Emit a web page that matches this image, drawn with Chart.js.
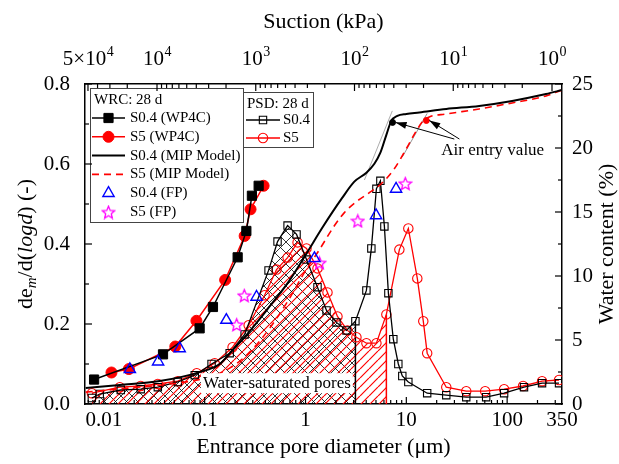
<!DOCTYPE html>
<html><head><meta charset="utf-8">
<script src="https://cdn.jsdelivr.net/npm/chart.js@4.4.1/dist/chart.umd.min.js"></script>
<style>html,body{margin:0;padding:0;background:#fff;} canvas{display:block;}</style>
</head><body>
<canvas id="c" width="619" height="464"></canvas>
<script>
const FONT = '"Liberation Serif", "Times New Roman", serif';

// ---------------- DATA ----------------
// Axis ticks
const xTickValues = [0.01, 0.1, 1, 10, 100, 350];
const xTickLabels = ['0.01', '0.1', '1', '10', '100', '350'];
const suctionTickValues = [5e4, 1e4, 1e3, 1e2, 1e1, 1e0];
const suctionTickBase = ['5×10', '10', '10', '10', '10', '10'];
const suctionTickExp  = ['4', '4', '3', '2', '1', '0'];

// WRC: WP4C measurements (diameter um, water content %)
const wp4cDiam_S04 = [0.0080, 0.0386, 0.0891, 0.1208, 0.2123, 0.259, 0.294, 0.343];
const wp4cWC_S04   = [1.91, 3.88, 5.91, 7.58, 11.46, 13.52, 16.27, 17.05];
const wp4cDiam_S5  = [0.0119, 0.0177, 0.0511, 0.0828, 0.1596, 0.249, 0.285, 0.384];
const wp4cWC_S5    = [2.46, 2.73, 4.49, 6.50, 9.69, 13.13, 15.21, 17.05];

// WRC: MIP model curves
const mipDiam_S04 = [0.0066,0.0144,0.0358,0.0891,0.141,0.189,0.249,0.411,0.695,1.023,1.472,2.32,3.05,4.02,4.82,5.53,6.34,7.10,8.15,10.0,13.45,24.9,52.8,112,243,350];
const mipWC_S04   = [1.25,1.48,1.79,2.49,3.12,4.21,5.22,7.32,9.66,11.76,13.79,16.12,17.37,18.07,18.77,19.63,21.03,22.12,22.51,22.66,22.78,23.05,23.29,23.68,24.22,24.53];
const mipDiam_S5  = [0.0066,0.0181,0.045,0.1,0.177,0.279,0.441,0.695,0.977,1.377,1.94,2.43,3.20,4.30,5.65,7.60,10.0,12.56,14.7,16.9,24.9,52.8,112,243,350];
const mipWC_S5    = [0.93,1.25,1.56,2.02,2.80,4.05,5.92,8.26,10.28,12.07,13.94,14.95,15.81,16.51,17.21,18.38,19.94,21.34,22.12,22.43,22.66,23.05,23.52,24.07,24.53];

// WRC: filter paper
const fpDiam_S04 = [0.0181, 0.0345, 0.0565, 0.164, 0.327, 1.227, 5.01, 7.91];
const fpWC_S04   = [2.71, 3.30, 4.34, 6.56, 8.36, 11.38, 14.73, 16.80];
const fpDiam_S5  = [0.2075, 0.247, 1.377, 3.30, 9.77];
const fpWC_S5    = [6.21, 8.49, 11.04, 14.32, 17.24];

// PSD (diameter um, dem/dlogd)
const psdDiam_S04 = [0.0076,0.0091,0.0147,0.0232,0.0343,0.0541,0.0797,0.117,0.177,0.249,0.430,0.528,0.664,0.815,1.023,1.315,1.615,2.028,2.549,3.126,4.018,4.50,5.05,5.53,6.06,6.64,7.43,8.33,9.12,10.47,16.1,24.9,39.3,61.9,93.3,147,222,327];
const psdVal_S04  = [0.015,0.025,0.035,0.037,0.042,0.055,0.072,0.100,0.127,0.174,0.334,0.406,0.446,0.424,0.361,0.292,0.234,0.204,0.184,0.207,0.284,0.389,0.538,0.558,0.444,0.277,0.162,0.100,0.070,0.055,0.027,0.022,0.017,0.017,0.027,0.042,0.052,0.052];
const psdDiam_S5  = [0.0076,0.0144,0.0232,0.0343,0.0541,0.0834,0.1256,0.189,0.273,0.393,0.516,0.664,0.834,1.023,1.315,1.652,2.075,2.606,3.20,4.02,5.05,6.34,8.53,10.47,12.85,14.73,16.1,24.9,39.3,60.5,93.3,143.9,222,327];
const psdVal_S5   = [0.027,0.042,0.045,0.050,0.057,0.077,0.102,0.142,0.197,0.272,0.336,0.366,0.404,0.389,0.339,0.279,0.219,0.184,0.167,0.152,0.152,0.224,0.386,0.439,0.314,0.207,0.127,0.042,0.032,0.032,0.037,0.045,0.057,0.060];
// Index of the last water-saturated pore class (hatched area limit)
const satIndex_S04 = 19;
const satIndex_S5 = 21;

// Air entry values (diameter um, water content %)
const airEntryDiam = [7.3, 15.8];
const airEntryWC   = [22.0, 22.15];
// Tangent construction lines [d1, w1, d2, w2]
const tangentS04 = [3.84, 17.5, 7.26, 22.9];
const tangentS5  = [9.12, 19.3, 16.1, 22.7];

// Annotations
const satLabelText = 'Water-saturated pores';
const satLabelPos = [0.096, 0.052];
const airLabelText = 'Air entry value';
const airLabelPos = [22.2, 19.77];
const airArrowTails = [[29.9, 20.7], [33.6, 20.7]];

// ---------------- helpers ----------------
const canvas = document.getElementById('c');
const mainCtx = canvas.getContext('2d');
function pts(xs, ys){ return xs.map((x,i)=>({x:x, y:ys[i]})); }

function hatch(color, dirs, step, lw){
  const c = document.createElement('canvas'); c.width = step; c.height = step;
  const g = c.getContext('2d'); g.strokeStyle = color; g.lineWidth = lw;
  dirs.forEach(d=>{
    g.beginPath();
    for (let k=-1;k<=1;k++){
      if (d === '/'){ g.moveTo(k*step, step); g.lineTo(k*step+step, 0); }
      else { g.moveTo(k*step, 0); g.lineTo(k*step+step, step); }
    }
    g.stroke();
  });
  return mainCtx.createPattern(c, 'repeat');
}
function starImg(color, size){
  const c = document.createElement('canvas'); c.width = size; c.height = size;
  const g = c.getContext('2d'); g.strokeStyle = color; g.lineWidth = 1.3;
  const cx = size/2, cy = size/2 + 0.8, R = size/2 - 1, r = R*0.45;
  g.beginPath();
  for (let i=0;i<10;i++){ const a = -Math.PI/2 + i*Math.PI/5; const rad = i%2 ? r : R; g.lineTo(cx+rad*Math.cos(a), cy+rad*Math.sin(a)); }
  g.closePath(); g.stroke();
  return c;
}
const starMarker = starImg('#ff00ff', 15);
const hatchBlack = hatch('#000', ['\\','/'], 11, 0.8);
const hatchRed = hatch('#ff0000', ['/'], 9, 1.2);

// ---------------- datasets ----------------
const datasets = [
  { label:'S0.4 (WP4C)', data: pts(wp4cDiam_S04, wp4cWC_S04), yAxisID:'y2', borderColor:'#000', borderWidth:1.5,
    pointStyle:'rect', pointRadius:6.5, pointBackgroundColor:'#000', pointBorderColor:'#000', pointBorderWidth:1, order:1 },
  { label:'S5 (WP4C)', data: pts(wp4cDiam_S5, wp4cWC_S5), yAxisID:'y2', borderColor:'#ff0000', borderWidth:1.5,
    pointStyle:'circle', pointRadius:5.5, pointBackgroundColor:'#ff0000', pointBorderColor:'#ff0000', pointBorderWidth:1, order:1 },
  { label:'S0.4 (MIP Model)', data: pts(mipDiam_S04, mipWC_S04), yAxisID:'y2', borderColor:'#000', borderWidth:2,
    pointRadius:0, cubicInterpolationMode:'monotone', order:2 },
  { label:'S5 (MIP Model)', data: pts(mipDiam_S5, mipWC_S5), yAxisID:'y2', borderColor:'#ff0000', borderWidth:1.6, borderDash:[7,5],
    pointRadius:0, cubicInterpolationMode:'monotone', order:2 },
  { label:'S0.4 (FP)', data: pts(fpDiam_S04, fpWC_S04), yAxisID:'y2', showLine:false, borderColor:'#0000ff',
    pointStyle:'triangle', pointRadius:6.5, pointBackgroundColor:'rgba(0,0,0,0)', pointBorderColor:'#0000ff', pointBorderWidth:1.4, order:0 },
  { label:'S5 (FP)', data: pts(fpDiam_S5, fpWC_S5), yAxisID:'y2', showLine:false, borderColor:'#ff00ff',
    pointStyle:starMarker, pointRadius:7, pointBackgroundColor:'rgba(0,0,0,0)', pointBorderColor:'#ff00ff', pointBorderWidth:1.3, order:0 },
  { label:'S0.4', data: pts(psdDiam_S04, psdVal_S04), yAxisID:'y', borderColor:'#000', borderWidth:1.3,
    pointStyle:'rect', pointRadius:5.2, pointBackgroundColor:'rgba(0,0,0,0)', pointBorderColor:'#000', pointBorderWidth:1.1, order:4 },
  { label:'S5', data: pts(psdDiam_S5, psdVal_S5), yAxisID:'y', borderColor:'#ff0000', borderWidth:1.3,
    pointStyle:'circle', pointRadius:4.7, pointBackgroundColor:'rgba(0,0,0,0)', pointBorderColor:'#ff0000', pointBorderWidth:1.1, order:4 },
  { label:'hatch S0.4', data: pts(psdDiam_S04.slice(0, satIndex_S04+1), psdVal_S04.slice(0, satIndex_S04+1)), yAxisID:'y',
    borderWidth:0, pointRadius:0, fill:'origin', backgroundColor:hatchBlack, order:9 },
  { label:'hatch S5', data: pts(psdDiam_S5.slice(0, satIndex_S5+1), psdVal_S5.slice(0, satIndex_S5+1)), yAxisID:'y',
    borderWidth:0, pointRadius:0, fill:'origin', backgroundColor:hatchRed, order:8 },
  { label:'limit S0.4', data: [{x:psdDiam_S04[satIndex_S04], y:0},{x:psdDiam_S04[satIndex_S04], y:psdVal_S04[satIndex_S04]}], yAxisID:'y',
    borderColor:'#000', borderWidth:1.5, pointRadius:0, order:5 },
  { label:'limit S5', data: [{x:psdDiam_S5[satIndex_S5], y:0},{x:psdDiam_S5[satIndex_S5], y:psdVal_S5[satIndex_S5]}], yAxisID:'y',
    borderColor:'#ff0000', borderWidth:1.5, pointRadius:0, order:5 },
  { label:'tangent S0.4', data: [{x:tangentS04[0], y:tangentS04[1]},{x:tangentS04[2], y:tangentS04[3]}], yAxisID:'y2',
    borderColor:'#888', borderWidth:0.7, pointRadius:0, order:3 },
  { label:'tangent S5', data: [{x:tangentS5[0], y:tangentS5[1]},{x:tangentS5[2], y:tangentS5[3]}], yAxisID:'y2',
    borderColor:'#666', borderWidth:0.7, pointRadius:0, order:3 },
  { label:'air entry', data: pts(airEntryDiam, airEntryWC), yAxisID:'y2', showLine:false,
    pointStyle:'circle', pointRadius:3, pointBackgroundColor:['#000','#ff0000'], pointBorderColor:['#000','#ff0000'], order:0 }
];

// ---------------- plugins ----------------
function line(ctx,x1,y1,x2,y2){ ctx.beginPath(); ctx.moveTo(x1,y1); ctx.lineTo(x2,y2); ctx.stroke(); }

const inwardTicks = {
  id:'inwardTicks',
  afterDraw(chart){
    const {ctx, chartArea:a, scales:{x, x2, y, y2}} = chart;
    ctx.save(); ctx.strokeStyle = '#000'; ctx.lineWidth = 1.2;
    const inX = (s,v)=>{ const p = s.getPixelForValue(v); return p >= a.left-0.5 && p <= a.right+0.5 ? p : null; };
    for (let e=-3;e<=2;e++) for (let m=1;m<=9;m++){
      const v = m*Math.pow(10,e); const p = inX(x,v); if (p===null) continue;
      const L = (m===1) ? 7 : 4; line(ctx,p,a.bottom,p,a.bottom-L);
    }
    for (let e=0;e<=4;e++) for (let m=1;m<=9;m++){
      const v = m*Math.pow(10,e); const p = inX(x2,v); if (p===null) continue;
      const L = (m===1 || suctionTickValues.includes(v)) ? 7 : 4; line(ctx,p,a.top,p,a.top+L);
    }
    for (let i=0;i<=8;i++){ const p = y.getPixelForValue(i*0.1); const L = i%2===0 ? 7 : 4; line(ctx,a.left,p,a.left+L,p); }
    for (let i=0;i<=10;i++){ const p = y2.getPixelForValue(i*2.5); const L = i%2===0 ? 7 : 4; line(ctx,a.right,p,a.right-L,p); }
    ctx.restore();

    // suction tick labels with superscripts
    ctx.save(); ctx.fillStyle = '#000'; ctx.textBaseline = 'alphabetic'; ctx.textAlign = 'left';
    suctionTickValues.forEach((v,i)=>{
      const p = x2.getPixelForValue(v);
      ctx.font = `21px ${FONT}`; const wb = ctx.measureText(suctionTickBase[i]).width;
      ctx.font = `14px ${FONT}`; const we = ctx.measureText(suctionTickExp[i]).width;
      const sx = p - (wb+we)/2;
      ctx.font = `21px ${FONT}`; ctx.fillText(suctionTickBase[i], sx, 65);
      ctx.font = `14px ${FONT}`; ctx.fillText(suctionTickExp[i], sx+wb+0.5, 56);
    });
    ctx.restore();

    // axis titles (left with sub/italic, right rotated upward)
    ctx.save();
    ctx.fillStyle = '#000'; ctx.textBaseline = 'middle';
    const cy = (a.top + a.bottom)/2;
    const parts = [
      {t:'de', f:`22px ${FONT}`, dy:0},
      {t:'m', f:`italic 15px ${FONT}`, dy:6},
      {t:'/d(', f:`22px ${FONT}`, dy:0},
      {t:'logd', f:`italic 22px ${FONT}`, dy:0},
      {t:') (-)', f:`22px ${FONT}`, dy:0}
    ];
    let tw = 0; parts.forEach(p=>{ ctx.font = p.f; p.w = ctx.measureText(p.t).width; tw += p.w; });
    ctx.translate(26, cy); ctx.rotate(-Math.PI/2);
    let cx = -tw/2; ctx.textAlign = 'left';
    parts.forEach(p=>{ ctx.font = p.f; ctx.fillText(p.t, cx, p.dy); cx += p.w; });
    ctx.restore();
    ctx.save();
    ctx.fillStyle = '#000'; ctx.textBaseline = 'middle'; ctx.textAlign = 'center';
    ctx.font = `22px ${FONT}`;
    ctx.translate(607, cy); ctx.rotate(-Math.PI/2);
    ctx.fillText('Water content (%)', 0, 0);
    ctx.restore();
  }
};

function drawMarker(ctx, ds, px, py){
  if (!ds.pointRadius) return;
  ctx.save();
  ctx.fillStyle = ds.pointBackgroundColor; ctx.strokeStyle = ds.pointBorderColor; ctx.lineWidth = ds.pointBorderWidth || 1;
  Chart.helpers.drawPoint(ctx, {pointStyle: ds.pointStyle, radius: ds.pointRadius, rotation: 0, borderWidth: ds.pointBorderWidth || 1}, px, py);
  ctx.restore();
}
function drawLegendBox(ctx, box, title, entries, chart){
  ctx.save();
  ctx.fillStyle = '#fff'; ctx.fillRect(box.x, box.y, box.w, box.h);
  ctx.strokeStyle = '#444'; ctx.lineWidth = 1; ctx.strokeRect(box.x+0.5, box.y+0.5, box.w, box.h);
  ctx.fillStyle = '#000'; ctx.font = `15px ${FONT}`; ctx.textBaseline = 'middle'; ctx.textAlign = 'left';
  ctx.fillText(title, box.x + 4, box.y + 12);
  entries.forEach((e, i)=>{
    const ds = chart.data.datasets.find(d=>d.label === e.ds);
    const ry = box.y + box.rowStart + i*box.rowH;
    if (ds.showLine !== false){
      ctx.save(); ctx.strokeStyle = ds.borderColor; ctx.lineWidth = ds.borderWidth;
      ctx.setLineDash(ds.borderDash || []); line(ctx, box.x + box.lx0, ry, box.x + box.lx1, ry); ctx.restore();
    }
    drawMarker(ctx, ds, box.x + (box.lx0 + box.lx1)/2, ry);
    ctx.fillStyle = '#000'; ctx.font = `15px ${FONT}`;
    ctx.fillText(e.text, box.x + box.tx, ry);
  });
  ctx.restore();
}

const annotations = {
  id:'annotations',
  afterDatasetsDraw(chart){
    const {ctx, scales:{x, y, y2}} = chart;
    ctx.save();
    ctx.font = `17px ${FONT}`;
    const tx = x.getPixelForValue(satLabelPos[0]), ty = y.getPixelForValue(satLabelPos[1]);
    const w = ctx.measureText(satLabelText).width;
    ctx.fillStyle = '#fff'; ctx.fillRect(tx-2, ty-10, w+4, 20);
    ctx.fillStyle = '#000'; ctx.textBaseline = 'middle'; ctx.textAlign = 'left';
    ctx.fillText(satLabelText, tx, ty);
    ctx.fillText(airLabelText, x.getPixelForValue(airLabelPos[0]), y2.getPixelForValue(airLabelPos[1]));
    ctx.strokeStyle = '#000'; ctx.fillStyle = '#000'; ctx.lineWidth = 1;
    airArrowTails.forEach((t, i)=>{
      const x1 = x.getPixelForValue(t[0]), y1 = y2.getPixelForValue(t[1]);
      const x2 = x.getPixelForValue(airEntryDiam[i]) + 3, y2p = y2.getPixelForValue(airEntryWC[i]);
      line(ctx, x1, y1, x2, y2p);
      const ang = Math.atan2(y2p - y1, x2 - x1), L = 11, W = 3.5;
      ctx.beginPath(); ctx.moveTo(x2, y2p);
      ctx.lineTo(x2 - L*Math.cos(ang) + W*Math.sin(ang), y2p - L*Math.sin(ang) - W*Math.cos(ang));
      ctx.lineTo(x2 - L*Math.cos(ang) - W*Math.sin(ang), y2p - L*Math.sin(ang) + W*Math.cos(ang));
      ctx.closePath(); ctx.fill();
    });
    ctx.restore();
    drawLegendBox(ctx, {x:90, y:88, w:153, h:134, rowStart:30, rowH:18.8, lx0:2, lx1:35, tx:40}, 'WRC: 28 d', [
      {ds:'S0.4 (WP4C)', text:'S0.4 (WP4C)'},
      {ds:'S5 (WP4C)', text:'S5 (WP4C)'},
      {ds:'S0.4 (MIP Model)', text:'S0.4 (MIP Model)'},
      {ds:'S5 (MIP Model)', text:'S5 (MIP Model)'},
      {ds:'S0.4 (FP)', text:'S0.4 (FP)'},
      {ds:'S5 (FP)', text:'S5 (FP)'}
    ], chart);
    drawLegendBox(ctx, {x:243, y:92, w:70, h:55, rowStart:28, rowH:18, lx0:3, lx1:37, tx:40}, 'PSD: 28 d', [
      {ds:'S0.4', text:'S0.4'},
      {ds:'S5', text:'S5'}
    ], chart);
  }
};

// ---------------- chart ----------------
const tickFont = {family: FONT, size: 21};
const titleFont = {family: FONT, size: 22};
const border = {display:true, color:'#000', width:1.5};

new Chart(canvas, {
  type: 'line',
  data: { datasets },
  options: {
    responsive: false, animation: false, devicePixelRatio: 1, events: [],
    spanGaps: true,
    layout: { padding: 0 },
    plugins: { legend: {display:false}, tooltip: {enabled:false} },
    scales: {
      x: { type:'logarithmic', position:'bottom', min:0.0065, max:350, border,
           grid:{display:false, drawTicks:false},
           afterBuildTicks: s => { s.ticks = xTickValues.map(v=>({value:v})); },
           afterFit: s => { s.height = 60; },
           ticks:{ font:tickFont, color:'#000', padding:4, autoSkip:false, maxRotation:0, minRotation:0,
                   callback:(v,i)=>xTickLabels[i] },
           title:{ display:true, text:'Entrance pore diameter (μm)', font:titleFont, color:'#000', padding:{top:0,bottom:4} } },
      x2: { type:'logarithmic', position:'top', reverse:true, min:0.792, max:53600, border,
            grid:{display:false, drawTicks:false},
            afterBuildTicks: s => { s.ticks = suctionTickValues.map(v=>({value:v})); },
            afterFit: s => { s.height = 84; },
            ticks:{ display:false },
            title:{ display:true, text:'Suction (kPa)', font:titleFont, color:'#000', padding:{top:9,bottom:0} } },
      y: { type:'linear', position:'left', min:0, max:0.8, border,
           grid:{display:false, drawTicks:false},
           afterFit: s => { s.width = 85; },
           ticks:{ font:tickFont, color:'#000', padding:15, stepSize:0.2, callback:v=>v.toFixed(1) } },
      y2: { type:'linear', position:'right', min:0, max:25, border,
            grid:{display:false, drawTicks:false},
            afterFit: s => { s.width = 57; },
            ticks:{ font:tickFont, color:'#000', padding:10, stepSize:5, callback:v=>String(v) } }
    }
  },
  plugins: [annotations, inwardTicks]
});
</script>
</body></html>
